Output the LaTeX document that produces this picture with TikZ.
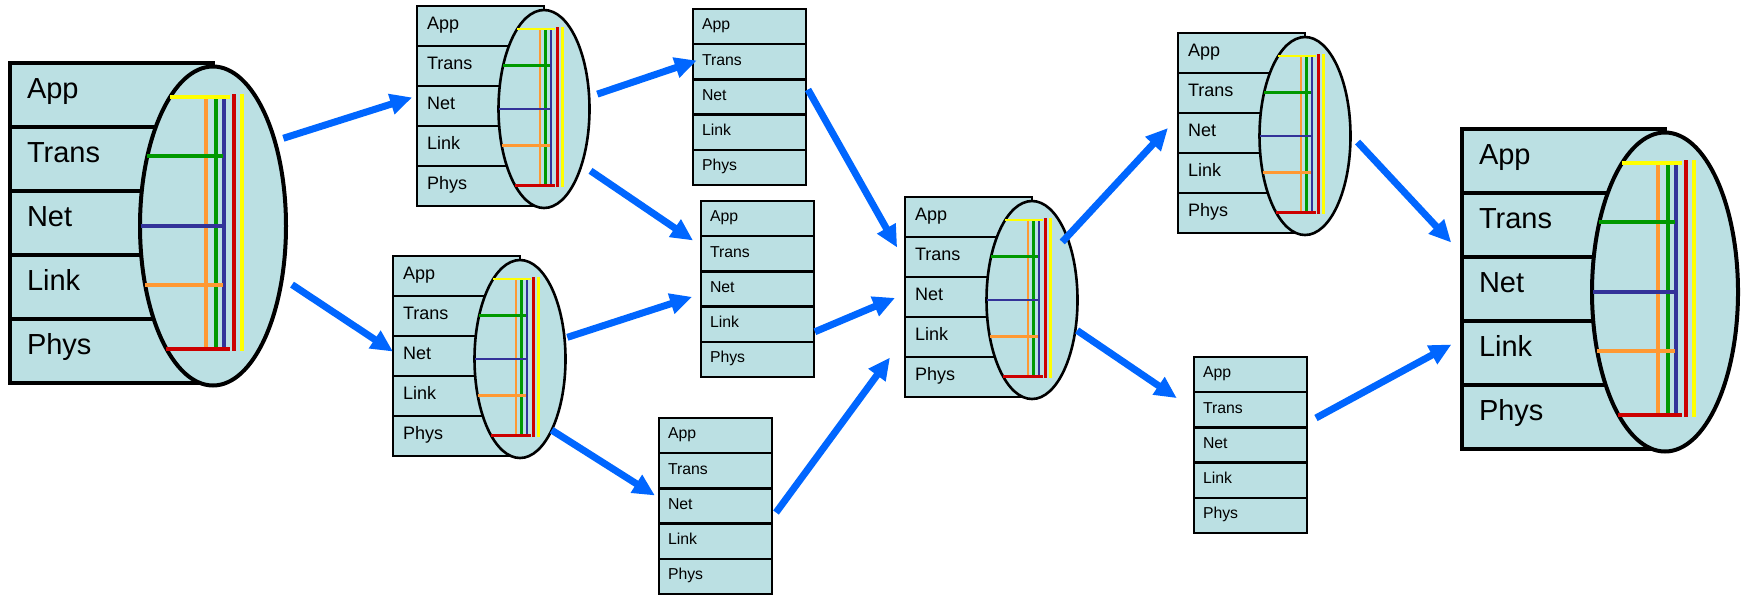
\documentclass[tikz,border=0pt]{standalone}
\usepackage{fontspec}
\setmainfont{Liberation Sans}
\usepackage{tikz}
\usetikzlibrary{shapes,arrows.meta,positioning}
\definecolor{layerfill}{RGB}{187,224,227}
\definecolor{flowblue}{RGB}{0,102,255}
\definecolor{ccyellow}{RGB}{255,255,0}
\definecolor{ccorange}{RGB}{255,153,51}
\definecolor{ccgreen}{RGB}{0,153,0}
\definecolor{ccblue}{RGB}{51,51,153}
\definecolor{ccred}{RGB}{204,0,0}
\tikzstyle{layer} = [draw, fill=layerfill, rectangle, inner ysep=0pt, outer sep=0pt,
    align=left, text height=0.72em, text depth=0.4em]
\tikzstyle{hostlayer} = [layer, line width=2pt, minimum width=101.5pt, minimum height=32pt,
    inner xsep=8.5pt, text width=84.5pt, font=\fontsize{14.5}{16}\selectfont]
\tikzstyle{routerlayer} = [layer, line width=1.3pt, minimum width=63.5pt, minimum height=20pt,
    inner xsep=5pt, text width=53.5pt, font=\fontsize{9}{10}\selectfont]
\tikzstyle{switchlayer} = [layer, line width=1.2pt, minimum width=56.5pt, minimum height=17.6pt,
    inner xsep=4.5pt, text width=47.5pt, font=\fontsize{7.9}{9}\selectfont]
\tikzstyle{hostcyl} = [draw, fill=layerfill, ellipse, line width=2pt,
    minimum width=73pt, minimum height=159.5pt, inner sep=0pt, outer sep=0pt]
\tikzstyle{routercyl} = [draw, fill=layerfill, ellipse, line width=1.3pt,
    minimum width=45.5pt, minimum height=99pt, inner sep=0pt, outer sep=0pt]
\tikzstyle{flow} = [->, draw=flowblue, line width=3.5pt]
% five layers stacked from the top left corner
\newcommand{\layerstack}[3]{%
    \node [#2, anchor=north west] (#1-app) at (#3) {App};
    \node [#2, below=0pt of #1-app] (#1-trans) {Trans};
    \node [#2, below=0pt of #1-trans] (#1-net) {Net};
    \node [#2, below=0pt of #1-net] (#1-link) {Link};
    \node [#2, below=0pt of #1-link] (#1-phys) {Phys};
}
% coloured wiring inside a cylinder: node, x radius, y radius, line width
\newcommand{\crossconnect}[4]{%
    \begin{scope}[shift={(#1.center)}, x=#2, y=-#3, line width=#4]
        \draw [ccorange] (-0.09,-0.81) -- (-0.09,0.77);
        \draw [ccgreen] (0.037,-0.81) -- (0.037,0.77);
        \draw [ccblue] (0.155,-0.81) -- (0.155,0.77);
        \draw [ccred] (0.29,-0.825) -- (0.29,0.785);
        \draw [ccyellow] (0.40,-0.825) -- (0.40,0.785);
        \draw [ccyellow] (-0.586,-0.81) -- (0.235,-0.81);
        \draw [ccgreen] (-0.898,-0.44) -- (0.14,-0.44);
        \draw [ccblue] (-0.99,0) -- (0.14,0);
        \draw [ccorange] (-0.929,0.37) -- (0.14,0.37);
        \draw [ccred] (-0.638,0.77) -- (0.235,0.77);
    \end{scope}
}

\begin{document}
\begin{tikzpicture}[x=0.5pt, y=-0.5pt, >={Triangle[length=11pt,width=10pt]}]
    \useasboundingbox (0,0) rectangle (1744,595);
    % We start by placing the two hosts
    \layerstack{hA}{hostlayer}{10,63}
    \layerstack{hB}{hostlayer}{1462,129}
    % then the routers
    \layerstack{r1}{routerlayer}{417,6}
    \layerstack{r2}{routerlayer}{393,256}
    \layerstack{r3}{routerlayer}{905,197}
    \layerstack{r4}{routerlayer}{1178,33}
    % and the switches
    \layerstack{s1}{switchlayer}{693,9}
    \layerstack{s2}{switchlayer}{701,201}
    \layerstack{s3}{switchlayer}{659,418}
    \layerstack{s4}{switchlayer}{1194,357}
    % cylinders on the right of hosts and routers
    \node [hostcyl, yshift=-1.5pt] (hA-cyl) at (hA-net.east) {};
    \node [hostcyl, yshift=-1.5pt] (hB-cyl) at (hB-net.east) {};
    \node [routercyl, yshift=-1.5pt] (r1-cyl) at (r1-net.east) {};
    \node [routercyl, yshift=-1.5pt] (r2-cyl) at (r2-net.east) {};
    \node [routercyl, yshift=-1.5pt] (r3-cyl) at (r3-net.east) {};
    \node [routercyl, yshift=-1.5pt] (r4-cyl) at (r4-net.east) {};
    \crossconnect{hA-cyl}{36.5pt}{79.75pt}{2pt}
    \crossconnect{hB-cyl}{36.5pt}{79.75pt}{2pt}
    \crossconnect{r1-cyl}{22.75pt}{49.5pt}{1.3pt}
    \crossconnect{r2-cyl}{22.75pt}{49.5pt}{1.3pt}
    \crossconnect{r3-cyl}{22.75pt}{49.5pt}{1.3pt}
    \crossconnect{r4-cyl}{22.75pt}{49.5pt}{1.3pt}
    % We draw the packet paths between the boxes
    \draw [flow, shorten <=4.5pt, shorten >=2.5pt] (hA-cyl.54) -- (r1-net.171);
    \draw [flow, shorten <=6pt, shorten >=0pt] (hA-cyl.-37) -- (r2-net.176);
    \draw [flow, shorten <=4.3pt, shorten >=-2pt] (r1-cyl.15) -- (s1-trans.west);
    \draw [flow, shorten <=5.4pt, shorten >=4.8pt] (r1-cyl.-56) -- (s2-trans.172);
    \draw [flow, shorten <=2pt, shorten >=8pt] (s1-net.11) -- (r3-trans.184);
    \draw [flow, shorten <=1.5pt, shorten >=4.7pt] (r2-cyl.25) -- (s2-net.185);
    \draw [flow, shorten <=0.5pt, shorten >=5.4pt] (s2-link.-8) -- (r3-net.177);
    \draw [flow, shorten <=0pt, shorten >=2.4pt] (r2-cyl.-66) -- (s3-net.172);
    \draw [flow, shorten <=3.4pt, shorten >=12.7pt] (s3-net.-12) -- (r3-link.west);
    \draw [flow, shorten <=-3.5pt, shorten >=7.4pt] (r3-cyl.61) -- (r4-net.166);
    \draw [flow, shorten <=1pt, shorten >=10.4pt] (r3-cyl.-34) -- (s4-trans.west);
    \draw [flow, shorten <=5.2pt, shorten >=7.9pt] (r4-cyl.2) -- (hB-trans.196);
    \draw [flow, shorten <=5.1pt, shorten >=6pt] (s4-trans.-13) -- (hB-link.172);
\end{tikzpicture}
\end{document}
